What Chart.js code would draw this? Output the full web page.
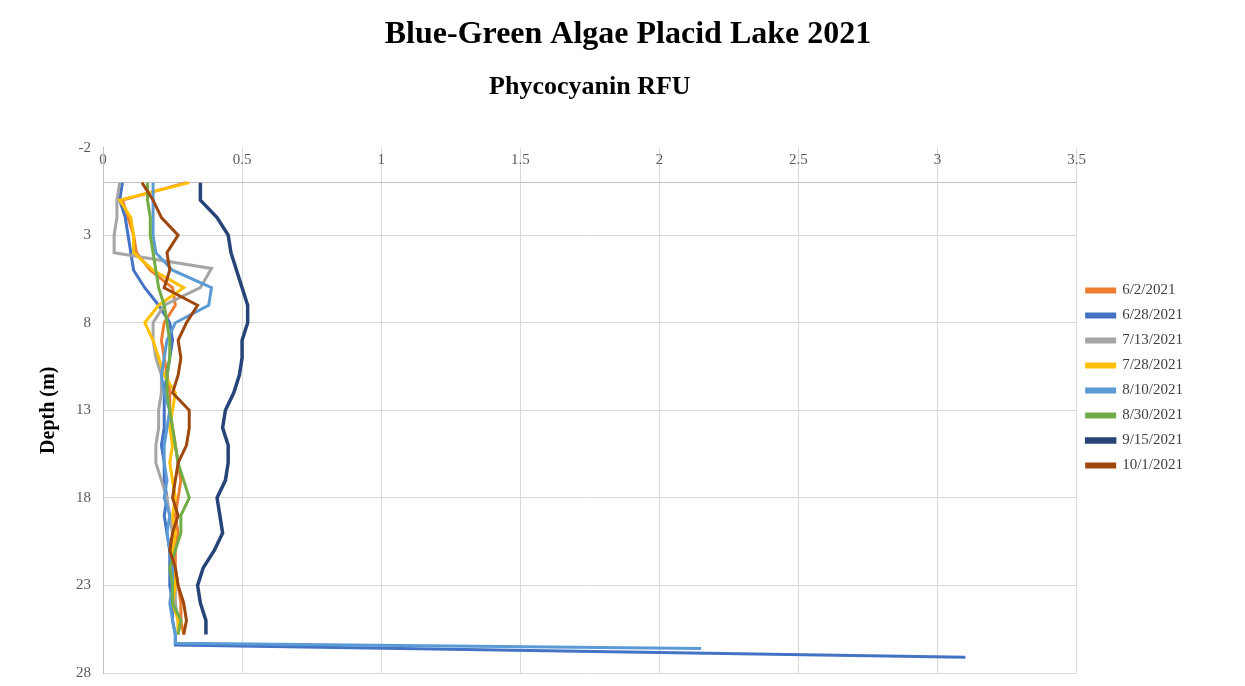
<!DOCTYPE html>
<html lang="en">
<head>
    <meta charset="UTF-8">
    <title>Blue-Green Algae Placid Lake 2021</title>
    <script src="https://cdn.jsdelivr.net/npm/chart.js"></script>
    <style>
        html, body { margin: 0; padding: 0; background: #fff; }
        #wrap { width: 1245px; height: 686px; }
    </style>
</head>
<body>
    <div id="wrap"><canvas id="chart" width="1245" height="686"></canvas></div>

    <script>
        // depth in metres, phycocyanin in RFU
        const depth = [0, 1, 2, 3, 4, 5, 6, 7, 8, 9, 10, 11, 12, 13, 14, 15, 16, 17, 18, 19, 20, 21, 22, 23, 24, 25, 25.8];
        const depth0713 = [0, 1, 2, 3, 4, 4.9, 6, 7, 8, 9, 10, 11, 12, 13, 14, 15, 16, 17, 18, 19, 20, 21, 22, 23, 24, 25, 25.8];

        const rfu0602 = [0.30, 0.07, 0.09, 0.11, 0.12, 0.17, 0.25, 0.26, 0.22, 0.21, 0.22, 0.23, 0.24, 0.24, 0.25, 0.26, 0.27, 0.28, 0.27, 0.26, 0.27, 0.26, 0.26, 0.27, 0.28, 0.28, 0.29];
        const rfu0628 = [0.07, 0.06, 0.08, 0.09, 0.10, 0.11, 0.15, 0.20, 0.24, 0.25, 0.24, 0.23, 0.22, 0.22, 0.22, 0.21, 0.22, 0.22, 0.23, 0.22, 0.23, 0.24, 0.24, 0.24, 0.25, 0.25, 0.26];
        const rfu0713 = [0.06, 0.05, 0.05, 0.04, 0.04, 0.39, 0.35, 0.22, 0.18, 0.18, 0.19, 0.21, 0.21, 0.20, 0.20, 0.19, 0.19, 0.21, 0.23, 0.24, 0.25, 0.25, 0.25, 0.26, 0.26, 0.27, 0.27];
        const rfu0728 = [0.31, 0.06, 0.10, 0.11, 0.11, 0.18, 0.29, 0.20, 0.15, 0.18, 0.20, 0.22, 0.26, 0.25, 0.24, 0.25, 0.24, 0.25, 0.26, 0.25, 0.26, 0.25, 0.25, 0.26, 0.25, 0.27, 0.27];
        const rfu0810 = [0.18, 0.18, 0.18, 0.18, 0.19, 0.25, 0.39, 0.38, 0.26, 0.23, 0.22, 0.21, 0.22, 0.24, 0.23, 0.22, 0.22, 0.23, 0.22, 0.24, 0.23, 0.24, 0.25, 0.25, 0.24, 0.25, 0.26];
        const rfu0830 = [0.16, 0.16, 0.17, 0.17, 0.18, 0.19, 0.20, 0.22, 0.23, 0.24, 0.24, 0.23, 0.23, 0.24, 0.25, 0.26, 0.27, 0.29, 0.31, 0.28, 0.28, 0.26, 0.24, 0.25, 0.25, 0.28, 0.27];
        const rfu0915 = [0.35, 0.35, 0.41, 0.45, 0.46, 0.48, 0.50, 0.52, 0.52, 0.50, 0.50, 0.49, 0.47, 0.44, 0.43, 0.45, 0.45, 0.44, 0.41, 0.42, 0.43, 0.40, 0.36, 0.34, 0.35, 0.37, 0.37];
        const rfu1001 = [0.14, 0.18, 0.21, 0.27, 0.23, 0.24, 0.22, 0.34, 0.30, 0.27, 0.28, 0.27, 0.25, 0.31, 0.31, 0.30, 0.27, 0.26, 0.25, 0.27, 0.25, 0.24, 0.26, 0.27, 0.29, 0.30, 0.29];

        // last readings at the lake bottom
        const bottomDepth0628 = [26.4, 27.1];
        const bottomRfu0628 = [0.26, 3.1];
        const bottomDepth0810 = [26.3, 26.6];
        const bottomRfu0810 = [0.26, 2.15];

        const dates = ['6/2/2021', '6/28/2021', '7/13/2021', '7/28/2021', '8/10/2021', '8/30/2021', '9/15/2021', '10/1/2021'];
        const colors = ['#ED7D31', '#4472C4', '#A5A5A5', '#FFC000', '#5B9BD5', '#70AD47', '#264478', '#9E480E'];

        function points(d, v) {
            return d.map((y, i) => ({ x: v[i], y: y }));
        }

        const series = [
            points(depth, rfu0602),
            points(depth.concat(bottomDepth0628), rfu0628.concat(bottomRfu0628)),
            points(depth0713, rfu0713),
            points(depth, rfu0728),
            points(depth.concat(bottomDepth0810), rfu0810.concat(bottomRfu0810)),
            points(depth, rfu0830),
            points(depth, rfu0915),
            points(depth, rfu1001)
        ];

        const serif = 'Liberation Serif';

        new Chart(document.getElementById('chart').getContext('2d'), {
            type: 'scatter',
            data: {
                datasets: series.map((pts, i) => ({
                    label: dates[i],
                    data: pts,
                    showLine: true,
                    borderColor: colors[i],
                    backgroundColor: colors[i],
                    borderWidth: i === 6 ? 3.5 : 3,
                    pointRadius: 0,
                    tension: 0,
                    order: series.length - i   // later dates are drawn on top
                }))
            },
            options: {
                responsive: false,
                animation: false,
                layout: { padding: { left: 23, right: 52, top: 0, bottom: 2 } },
                plugins: {
                    title: {
                        display: true,
                        // leading spaces nudge the title right, as in the original
                        text: '\u00a0\u00a0\u00a0\u00a0\u00a0Blue-Green Algae Placid Lake 2021',
                        color: '#000',
                        font: { family: serif, size: 32, weight: 'bold' },
                        padding: { top: 16, bottom: 17 }
                    },
                    subtitle: {
                        display: true,
                        text: 'Phycocyanin RFU',
                        fullSize: false,
                        color: '#000',
                        font: { family: serif, size: 26, weight: 'bold' },
                        padding: { top: 0, bottom: 45 }
                    },
                    legend: {
                        position: 'right',
                        align: 'start',
                        fullSize: false,
                        title: { display: true, text: '', padding: { top: 111, bottom: 0 } },
                        labels: {
                            boxWidth: 28,
                            boxHeight: 3,
                            padding: 10,
                            color: '#404040',
                            font: { family: serif, size: 15 },
                            sort: (a, b) => a.datasetIndex - b.datasetIndex
                        }
                    },
                    tooltip: { enabled: false }
                },
                scales: {
                    x: {
                        type: 'linear',
                        position: { y: 0 },
                        min: 0,
                        max: 3.5,
                        ticks: {
                            stepSize: 0.5,
                            padding: -32,
                            color: '#595959',
                            font: { family: serif, size: 15 },
                            callback: v => String(v)
                        },
                        grid: { color: '#d9d9d9', drawTicks: false },
                        border: { color: '#bfbfbf' }
                    },
                    y: {
                        type: 'linear',
                        reverse: true,
                        min: -2,
                        max: 28,
                        ticks: {
                            stepSize: 5,
                            padding: 4,
                            color: '#595959',
                            font: { family: serif, size: 15 }
                        },
                        grid: {
                            color: ctx => ctx.tick && ctx.tick.value === -2 ? 'rgba(0,0,0,0)' : '#d9d9d9',
                            drawTicks: true,
                            tickLength: 8,
                            tickColor: 'rgba(0,0,0,0)'
                        },
                        border: { color: '#bfbfbf' },
                        title: {
                            display: true,
                            text: 'Depth (m)',
                            color: '#000',
                            font: { family: serif, size: 20, weight: 'bold' },
                            padding: { top: 14, bottom: 11 }
                        }
                    }
                }
            }
        });
    </script>
</body>
</html>
